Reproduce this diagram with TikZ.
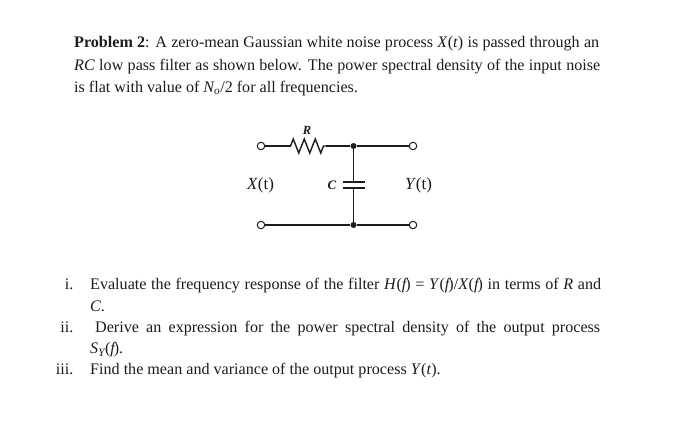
\documentclass[tikz,border=0pt]{standalone}
\usepackage{fontspec}
\setmainfont{Liberation Serif}
\usetikzlibrary{snakes}
\definecolor{inkblack}{HTML}{1C1C1C}
\newcommand{\fitline}[2]{\hbox to #1pt{#2}}
\newcommand{\ffun}{\textit{f\kern-0.06em}}
\tikzset{
         textline/.style={anchor=base west,inner sep=0pt,text=inkblack,font=\fontsize{16.1}{18}\selectfont},
         listlabel/.style={anchor=base east,inner sep=0pt,text=inkblack,font=\fontsize{16.1}{18}\selectfont},
         terminal/.style={circle,draw=inkblack,fill=white,line width=1pt,minimum size=7.5pt,inner sep=0pt},
         junction/.style={circle,fill=inkblack,minimum size=6pt,inner sep=0pt},
         wire/.style={draw=inkblack,line width=1.4pt},
         partlabel/.style={inner sep=0pt,text=inkblack,font=\fontsize{17}{19}\selectfont}
        }
\begin{document}
\begin{tikzpicture}[x=1pt,y=-1pt]
\useasboundingbox (0,0) rectangle (700,447);
\node[textline] (lineA) at (74,47.5) {\fitline{525}{\textbf{Problem 2}: A zero-mean Gaussian white noise process \textit{X}(\textit{t}) is passed through an}}; % statement
\node[textline] (lineB) at (74,70) {\fitline{526}{\textit{RC} low pass filter as shown below. The power spectral density of the input noise}};
\node[textline] (lineC) at (74,92) {is flat with value of \textit{N\textsubscript{o}}/2 for all frequencies.};
\node[terminal] (Xtop) at (261,146) {}; % terminals
\node[terminal] (Xbot) at (261,225) {};
\node[terminal] (Ytop) at (413,146) {};
\node[terminal] (Ybot) at (413,225) {};
\node[junction] (Jtop) at (353.5,146) {}; % junctions
\node[junction] (Jbot) at (353.5,225) {};
\coordinate (Rin) at (290.5,146); % R ends
\coordinate (Rout) at (326,146);
\coordinate (CupL) at (343,182); % C plates
\coordinate (Cup) at (353.5,182);
\coordinate (CupR) at (365,182);
\coordinate (CdnL) at (343,188);
\coordinate (Cdn) at (353.5,188);
\coordinate (CdnR) at (365,188);
\draw[wire] (Xtop)--(Rin); % Wiring
\draw[wire,snake=zigzag,segment length=11,segment amplitude=7] (Rin)--(Rout); % R
\draw[wire] (Rout)--(Jtop)--(Ytop); % Wiring
\draw[wire] (Xbot)--(Jbot)--(Ybot); % Wiring
\draw[wire] (Jtop)--(Cup); % Wiring
\draw[wire] (Cdn)--(Jbot); % Wiring
\draw[wire] (CupL)--(CupR); % C
\draw[wire] (CdnL)--(CdnR); % C
\node[partlabel,font=\fontsize{12.5}{14}\selectfont\bfseries\itshape] (Rlabel) at (307,130) {R}; % R label
\node[partlabel,font=\fontsize{13}{15}\selectfont\bfseries\itshape] (Clabel) at (332,185.5) {C}; % C label
\node[partlabel] (Xlabel) at (260.5,185) {\textit{X}(t)}; % X label
\node[partlabel] (Ylabel) at (418.5,185) {\textit{Y}(t)}; % Y label
\node[listlabel] (markA) at (73.5,289) {i.}; % list
\node[textline] (itemA) at (90,289) {\fitline{511}{Evaluate the frequency response of the filter \textit{H}(\ffun) = \textit{Y}(\ffun)/\textit{X}(\ffun) in terms of \textit{R} and}};
\node[textline] (itemAb) at (90,311) {\textit{C}.};
\node[listlabel] (markB) at (73.5,332) {ii.};
\node[textline] (itemB) at (95,332) {\fitline{505}{Derive an expression for the power spectral density of the output process}};
\node[textline] (itemBb) at (90,353.5) {\textit{S\textsubscript{Y}}(\ffun).};
\node[listlabel] (markC) at (73.5,374) {iii.};
\node[textline] (itemC) at (90,374) {Find the mean and variance of the output process \textit{Y}(\textit{t}).};
\end{tikzpicture}
\end{document}
